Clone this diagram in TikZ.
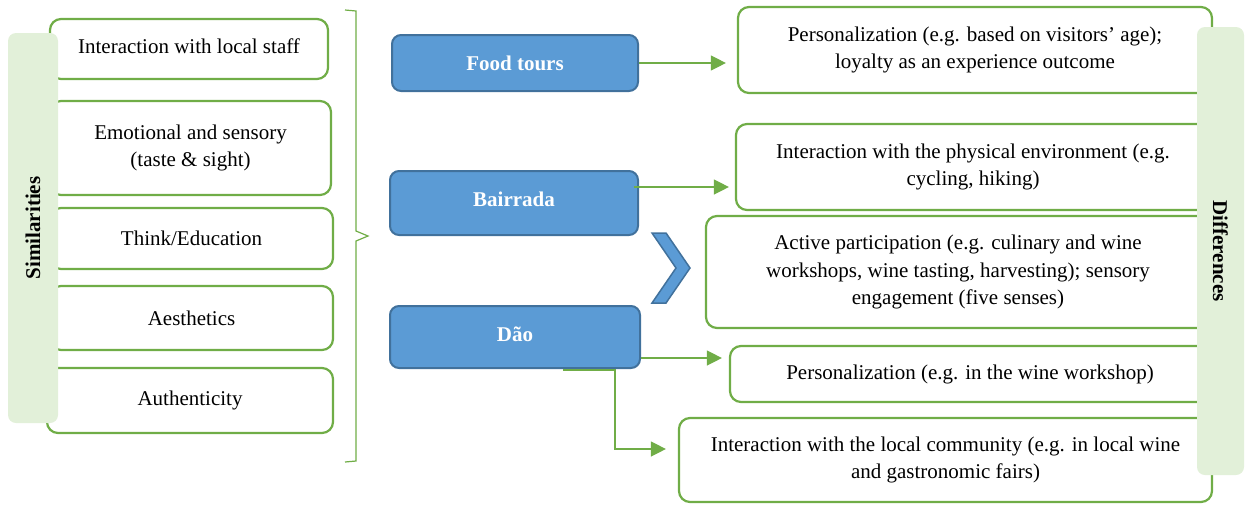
\documentclass[tikz,border=0pt]{standalone}
\usepackage{fontspec}
\setmainfont{Liberation Serif}
\usetikzlibrary{arrows.meta,calc}
\definecolor{grn}{HTML}{70AD47}
\definecolor{lgreen}{HTML}{E2F0D9}
\definecolor{bfill}{HTML}{5B9BD5}
\definecolor{bdark}{HTML}{41719C}
\newcommand{\liftby}[2]{\raisebox{#1}[\height][\depth]{#2}}
\begin{document}
\begin{tikzpicture}[x=1pt,y=-1pt,
  gbox/.style={draw=grn, line width=2.2pt, rounded corners=11pt, fill=white, align=center,
    font=\fontsize{21}{27.5}\selectfont, inner sep=0pt},
  bbox/.style={draw=bdark, fill=bfill, line width=2pt, rounded corners=9pt, text=white,
    font=\fontsize{21}{25}\selectfont\bfseries, inner sep=0pt},
  sidebar/.style={fill=lgreen, rounded corners=8pt, inner sep=0pt},
  sidelabel/.style={font=\fontsize{21}{25}\selectfont\bfseries},
  arr/.style={draw=grn, line width=1.3pt, -{Triangle[length=15pt,width=15pt]}},
  bracestyle/.style={draw=grn, line width=1.2pt}]
\useasboundingbox (0,0) rectangle (1246,504);

% left similarity boxes
\node[gbox, minimum width=278, minimum height=60] (s1) at (189,49) {\liftby{3pt}{Interaction with local staff}};
\node[gbox, minimum width=281, minimum height=94] (s2) at (190.5,148) {Emotional and sensory\\(taste \& sight)};
\node[gbox, minimum width=283, minimum height=61] (s3) at (191.5,238.5) {Think/Education};
\node[gbox, minimum width=283, minimum height=64] (s4) at (191.5,318) {Aesthetics};
\node[gbox, minimum width=286, minimum height=65] (s5) at (190,400.5) {Authenticity};

% similarities bar
\node[sidebar, minimum width=50, minimum height=390] (simbar) at (33,228) {};
\node[sidelabel, rotate=90] (simlab) at (simbar.center) {Similarities};

% brace
\draw[bracestyle] (345,10) -- (356,11) -- (356,231) -- (368,236) -- (356,241) -- (356,461) -- (345,462);

% blue boxes
\node[bbox, minimum width=246, minimum height=56] (food) at (515,63) {Food tours};
\node[bbox, minimum width=248, minimum height=64] (bair) at (514,203) {\liftby{4pt}{Bairrada}};
\node[bbox, minimum width=250, minimum height=62] (dao) at (515,337) {\liftby{3pt}{Dão}};

% chevron
\filldraw[fill=bfill, draw=bdark, line width=1.5pt] (652,233) -- (666,233) -- (690,268) -- (666,303) -- (652,303) -- (676,268) -- cycle;

% right difference boxes
\node[gbox, minimum width=474, minimum height=86] (r1) at (975,50) {Personalization (e.g. based on visitors’ age);\\loyalty as an experience outcome};
\node[gbox, minimum width=474, minimum height=86] (r2) at (973,167) {Interaction with the physical environment (e.g.\\cycling, hiking)};
\node[gbox, minimum width=504, minimum height=112] (r3) at (958,272) {Active participation (e.g. culinary and wine\\workshops, wine tasting, harvesting); sensory\\engagement (five senses)};
\node[gbox, minimum width=480, minimum height=56] (r4) at (970,374) {Personalization (e.g. in the wine workshop)};
\node[gbox, minimum width=533, minimum height=84] (r5) at (945.5,460) {Interaction with the local community (e.g. in local wine\\and gastronomic fairs)};

% differences bar
\node[sidebar, minimum width=47, minimum height=448] (difbar) at (1220.5,251) {};
\node[sidelabel, rotate=-90] (diflab) at (difbar.center) {Differences};

% arrows
\draw[arr] (food.east) -- ($(food.east -| r1.west)+(-11,0)$);
\draw[arr] ($(bair.east)+(-5,-16)$) -- ($(bair.east -| r2.west)+(-6,-16)$);
\draw[arr] ($(dao.east)+(0,21)$) -- ($(dao.east -| r4.west)+(-7,21)$);
\coordinate (dstart) at ($(dao.south)+(48,1)$);
\coordinate (dturn) at ($(dao.south)+(100,1)$);
\draw[arr] (dstart) -- (dturn) |- ($(r5.west)+(-12,-11)$);
\end{tikzpicture}
\end{document}
